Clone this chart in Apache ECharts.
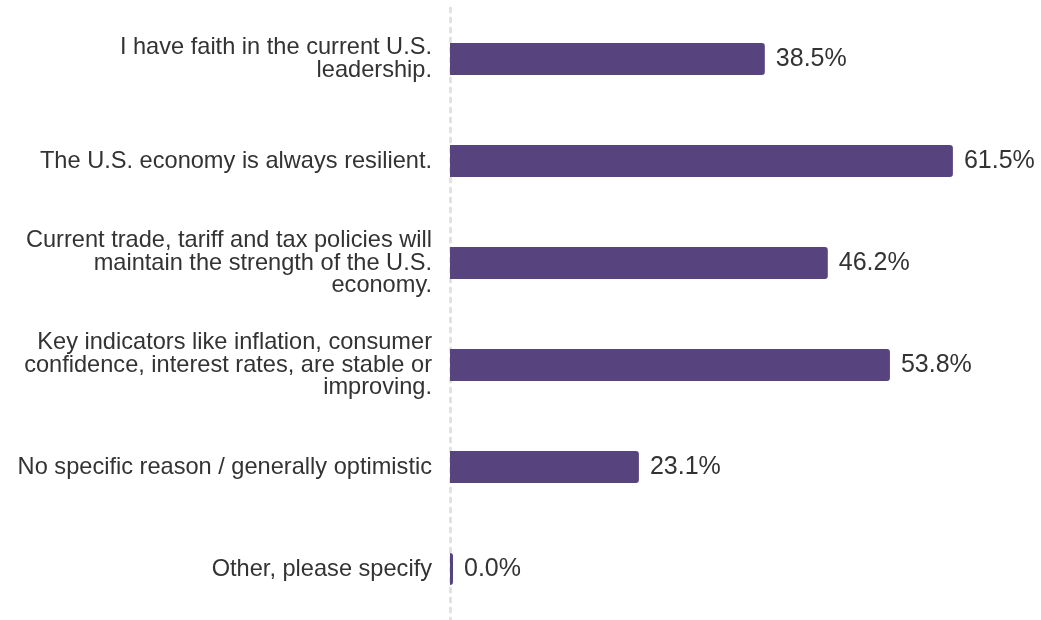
<!DOCTYPE html>
<html>
<head>
<meta charset="utf-8">
<style>
html,body{margin:0;padding:0;background:#fff;}
#chart{width:1041px;height:620px;}
</style>
<script src="https://cdn.jsdelivr.net/npm/echarts@6/dist/echarts.min.js"></script>
</head>
<body>
<div id="chart"></div>
<script>
const categories = [
  "I have faith in the current U.S.\nleadership.",
  "The U.S. economy is always resilient.",
  "Current trade, tariff and tax policies will\nmaintain the strength of the U.S.\neconomy.",
  "Key indicators like inflation, consumer\nconfidence, interest rates, are stable or\nimproving.",
  "No specific reason / generally optimistic",
  "Other, please specify"
];
const values = [38.5, 61.5, 46.2, 53.8, 23.1, 0.0];

const chart = echarts.init(document.getElementById('chart'), null, {renderer: 'canvas'});
chart.setOption({
  animation: false,
  grid: {left: 450, right: 18.6, top: 8, bottom: 0, containLabel: false},
  xAxis: {
    type: 'value', min: 0, max: 70, show: false
  },
  yAxis: {
    type: 'category',
    data: categories,
    inverse: true,
    axisTick: {show: false},
    axisLine: {show: true, lineStyle: {color: '#e2e2e2', width: 3, type: [4, 6]}},
    axisLabel: {
      margin: 18,
      fontFamily: 'Liberation Sans, Arial, sans-serif',
      fontSize: 23.6,
      lineHeight: 22.8,
      padding: [4, 0, 0, 0],
      color: '#333333',
      align: 'right'
    }
  },
  series: [{
    type: 'bar',
    data: values,
    barWidth: 32,
    barMinHeight: 3,
    itemStyle: {color: '#57437d', borderRadius: [0, 3, 3, 0]},
    label: {
      show: true,
      position: 'right',
      distance: 11,
      padding: [4, 0, 0, 0],
      fontFamily: 'Liberation Sans, Arial, sans-serif',
      fontSize: 25,
      color: '#333333',
      formatter: p => p.value.toFixed(1) + '%'
    }
  }]
});
</script>
</body>
</html>
